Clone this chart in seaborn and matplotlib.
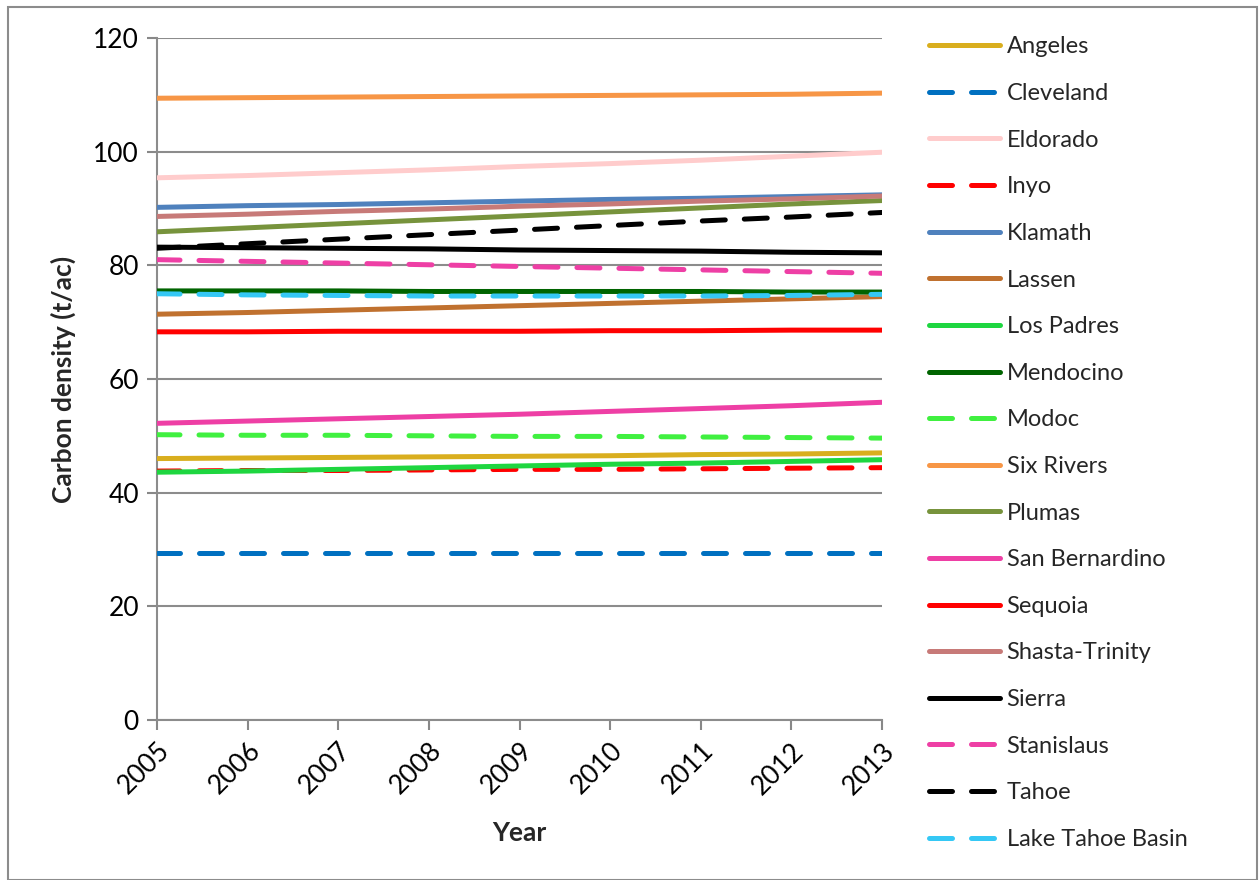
import matplotlib
matplotlib.use('Agg')
import matplotlib.pyplot as plt
import seaborn as sns
import pandas as pd
from matplotlib.patches import Rectangle
from matplotlib.lines import Line2D

# ---------------------------------------------------------
# DATA
# ---------------------------------------------------------
years = [2005, 2006, 2007, 2008, 2009, 2010, 2011, 2012, 2013]

angeles = [46.0, 46.1, 46.2, 46.3, 46.4, 46.5, 46.7, 46.8, 47.0]
cleveland = [29.4, 29.4, 29.4, 29.4, 29.4, 29.4, 29.4, 29.4, 29.4]
eldorado = [95.4, 95.8, 96.3, 96.8, 97.4, 97.9, 98.5, 99.2, 99.9]
inyo = [43.8, 43.9, 43.9, 44.0, 44.1, 44.1, 44.2, 44.3, 44.4]
klamath = [90.2, 90.5, 90.7, 91.0, 91.3, 91.6, 91.8, 92.1, 92.4]
lassen = [71.4, 71.7, 72.1, 72.5, 72.9, 73.3, 73.7, 74.1, 74.5]
los_padres = [43.6, 43.8, 44.1, 44.4, 44.7, 45.0, 45.2, 45.5, 45.8]
mendocino = [75.5, 75.5, 75.5, 75.4, 75.4, 75.4, 75.4, 75.3, 75.3]
modoc = [50.2, 50.1, 50.1, 50.0, 49.9, 49.9, 49.8, 49.7, 49.6]
six_rivers = [109.4, 109.5, 109.6, 109.7, 109.8, 109.9, 110.0, 110.1, 110.3]
plumas = [85.9, 86.6, 87.3, 88.0, 88.7, 89.4, 90.1, 90.8, 91.4]
san_bernardino = [52.2, 52.6, 53.0, 53.4, 53.8, 54.3, 54.8, 55.3, 55.9]
sequoia = [68.3, 68.3, 68.4, 68.4, 68.4, 68.5, 68.5, 68.6, 68.6]
shasta_trinity = [88.6, 89.0, 89.5, 89.9, 90.4, 90.8, 91.3, 91.7, 92.2]
sierra = [83.2, 83.1, 83.0, 82.9, 82.7, 82.6, 82.5, 82.3, 82.2]
stanislaus = [81.0, 80.7, 80.4, 80.1, 79.8, 79.5, 79.2, 78.9, 78.6]
tahoe = [83.0, 83.8, 84.6, 85.4, 86.2, 87.0, 87.8, 88.5, 89.3]
lake_tahoe_basin = [75.0, 74.8, 74.7, 74.6, 74.6, 74.6, 74.6, 74.7, 74.9]

forests = ['Angeles', 'Cleveland', 'Eldorado', 'Inyo', 'Klamath', 'Lassen',
           'Los Padres', 'Mendocino', 'Modoc', 'Six Rivers', 'Plumas',
           'San Bernardino', 'Sequoia', 'Shasta-Trinity', 'Sierra',
           'Stanislaus', 'Tahoe', 'Lake Tahoe Basin']
series = [angeles, cleveland, eldorado, inyo, klamath, lassen, los_padres,
          mendocino, modoc, six_rivers, plumas, san_bernardino, sequoia,
          shasta_trinity, sierra, stanislaus, tahoe, lake_tahoe_basin]

colors = ['#D9AE1E', '#0070C0', '#FFCCCC', '#FF0000', '#4F81BD', '#C0712F',
          '#1ED640', '#006400', '#40F040', '#F79646', '#77933C', '#EE3FA5',
          '#FF0000', '#C77A78', '#000000', '#EE3FA5', '#000000', '#35C8F5']
dashed = {'Cleveland', 'Inyo', 'Modoc', 'Stanislaus', 'Tahoe', 'Lake Tahoe Basin'}

df = pd.DataFrame({
    'Year': years * len(forests),
    'Carbon': [v for s in series for v in s],
    'Forest': [f for f in forests for _ in years],
})

# ---------------------------------------------------------
# PLOT
# ---------------------------------------------------------
sns.set_theme(style='white')
plt.rcParams['font.family'] = ['Lato', 'DejaVu Sans']

fig = plt.figure(figsize=(12.59, 8.80), dpi=100)
ax = fig.add_axes([157 / 1259, 1 - 720 / 880, (882 - 157) / 1259, (720 - 38) / 880])

lw = 3.6
dash_pat = (4.6, 3.8)
fs = 19
palette = dict(zip(forests, colors))
dashes = {f: (dash_pat if f in dashed else '') for f in forests}

sns.lineplot(data=df, x='Year', y='Carbon', hue='Forest', style='Forest',
             palette=palette, dashes=dashes, hue_order=forests,
             style_order=forests, linewidth=lw, legend=False, ax=ax,
             zorder=3)
for ln in ax.lines:
    ln.set_solid_capstyle('round')
    ln.set_dash_capstyle('round')

# axes look (Excel style)
ax.set_xlim(2005, 2013)
ax.set_ylim(0, 120)
ax.set_yticks(range(0, 121, 20))
ax.set_xticks(years)
ax.set_xticklabels([str(y) for y in years], rotation=45, ha='right',
                   rotation_mode='anchor')
ax.tick_params(axis='both', labelsize=fs, colors='#888888', labelcolor='black',
               length=7, width=1.5, direction='out', bottom=True, left=True,
               pad=6)
ax.grid(axis='y', color='#8C8C8C', linewidth=1.5, zorder=0)
ax.grid(axis='x', visible=False)
sns.despine(ax=ax, top=True, right=True)
for side in ['left', 'bottom']:
    ax.spines[side].set_color('#8C8C8C')
    ax.spines[side].set_linewidth(1.5)

ax.set_xlabel('Year', fontsize=fs, fontweight='bold', labelpad=16)
ax.set_ylabel('Carbon density (t/ac)', fontsize=fs, fontweight='bold', labelpad=12)

# legend with proxy handles
handles = []
for f, c in zip(forests, colors):
    handles.append(Line2D([], [], color=c, linewidth=lw, solid_capstyle='round',
                          dash_capstyle='round',
                          linestyle=(0, dash_pat) if f in dashed else '-'))
fig.legend(handles, forests, loc='upper left',
           bbox_to_anchor=(920 / 1259, 1 - 27 / 880),
           frameon=False, fontsize=17, handlelength=2.97, handletextpad=0.3,
           labelspacing=1.085, borderaxespad=0)

# outer chart border
fig.patches.append(Rectangle((8 / 1259, 0.0), (1257 - 8) / 1259, 1 - 7 / 880,
                             transform=fig.transFigure, fill=False,
                             edgecolor='#8C8C8C', linewidth=1.5))

plt.savefig('out.png', dpi=100, facecolor='white')
plt.close()
